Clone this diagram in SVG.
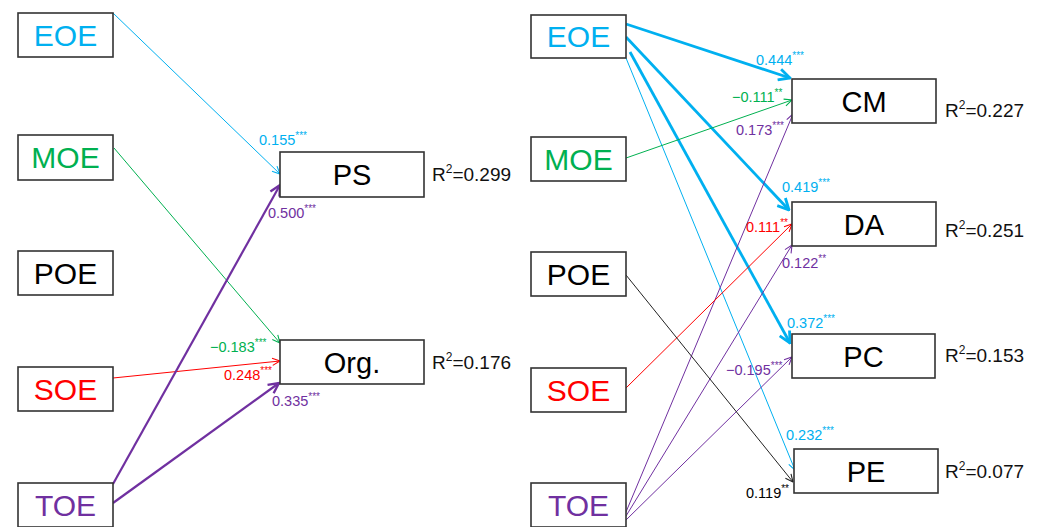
<svg xmlns="http://www.w3.org/2000/svg" width="1040" height="527" viewBox="0 0 1040 527">
<style>
.box{fill:#fff;stroke:#333;stroke-width:1.6}
.src{font-family:"Liberation Sans",Arial,sans-serif;font-size:30px;text-anchor:middle}
.tgt{font-family:"Liberation Sans",Arial,sans-serif;font-size:29px;text-anchor:middle;fill:#000}
.r2{font-family:"Liberation Sans",Arial,sans-serif;font-size:19px;fill:#111}
.lbl{font-family:"Liberation Sans",Arial,sans-serif;font-size:14.5px}
.cy{fill:#00B0F0}.gr{fill:#00B050}.rd{fill:#FF0000}.pu{fill:#7030A0}.bk{fill:#000}
</style>
<defs>
<marker id="a-cy" viewBox="0 0 10 10" refX="9.5" refY="5" markerWidth="9" markerHeight="9" markerUnits="userSpaceOnUse" orient="auto"><path d="M1,1 L9.5,5 L1,9" fill="none" stroke="#00B0F0" stroke-width="1.2"/></marker>
<marker id="a-cyT" viewBox="0 0 10 10" refX="9" refY="5" markerWidth="14" markerHeight="14" markerUnits="userSpaceOnUse" orient="auto"><path d="M1,1 L9,5 L1,9" fill="none" stroke="#00B0F0" stroke-width="2"/></marker>
<marker id="a-gr" viewBox="0 0 10 10" refX="9.5" refY="5" markerWidth="9" markerHeight="9" markerUnits="userSpaceOnUse" orient="auto"><path d="M1,1 L9.5,5 L1,9" fill="none" stroke="#00B050" stroke-width="1.2"/></marker>
<marker id="a-rd" viewBox="0 0 10 10" refX="9.5" refY="5" markerWidth="9" markerHeight="9" markerUnits="userSpaceOnUse" orient="auto"><path d="M1,1 L9.5,5 L1,9" fill="none" stroke="#FF0000" stroke-width="1.2"/></marker>
<marker id="a-pu" viewBox="0 0 10 10" refX="9.5" refY="5" markerWidth="9" markerHeight="9" markerUnits="userSpaceOnUse" orient="auto"><path d="M1,1 L9.5,5 L1,9" fill="none" stroke="#7030A0" stroke-width="1.2"/></marker>
<marker id="a-puT" viewBox="0 0 10 10" refX="9" refY="5" markerWidth="13" markerHeight="13" markerUnits="userSpaceOnUse" orient="auto"><path d="M1,1 L9,5 L1,9" fill="none" stroke="#7030A0" stroke-width="1.8"/></marker>
<marker id="a-bk" viewBox="0 0 10 10" refX="9.5" refY="5" markerWidth="9" markerHeight="9" markerUnits="userSpaceOnUse" orient="auto"><path d="M1,1 L9.5,5 L1,9" fill="none" stroke="#222" stroke-width="1.2"/></marker>
</defs>

<g id="connectors">
  <line x1="113" y1="13" x2="280" y2="174" stroke="#00B0F0" stroke-width="1" marker-end="url(#a-cy)"/>
  <line x1="114" y1="148" x2="280" y2="343" stroke="#00B050" stroke-width="1" marker-end="url(#a-gr)"/>
  <line x1="113" y1="378" x2="280" y2="361" stroke="#FF0000" stroke-width="1" marker-end="url(#a-rd)"/>
  <line x1="113" y1="484" x2="280" y2="185" stroke="#7030A0" stroke-width="2.2" marker-end="url(#a-puT)"/>
  <line x1="113" y1="503" x2="279" y2="383" stroke="#7030A0" stroke-width="2.2" marker-end="url(#a-puT)"/>
  <line x1="626" y1="24" x2="790" y2="78" stroke="#00B0F0" stroke-width="2.8" marker-end="url(#a-cyT)"/>
  <line x1="626" y1="37" x2="789" y2="210" stroke="#00B0F0" stroke-width="2.8" marker-end="url(#a-cyT)"/>
  <line x1="630" y1="52" x2="790" y2="343" stroke="#00B0F0" stroke-width="2.8" marker-end="url(#a-cyT)"/>
  <line x1="626" y1="58" x2="795" y2="470" stroke="#00B0F0" stroke-width="1" marker-end="url(#a-cy)"/>
  <line x1="626" y1="158" x2="792" y2="100" stroke="#00B050" stroke-width="1" marker-end="url(#a-gr)"/>
  <line x1="626" y1="512" x2="793" y2="114" stroke="#7030A0" stroke-width="1" marker-end="url(#a-pu)"/>
  <line x1="626" y1="516" x2="792" y2="245" stroke="#7030A0" stroke-width="1" marker-end="url(#a-pu)"/>
  <line x1="626" y1="520" x2="792" y2="357" stroke="#7030A0" stroke-width="1" marker-end="url(#a-pu)"/>
  <line x1="626" y1="388" x2="792" y2="224" stroke="#FF0000" stroke-width="1" marker-end="url(#a-rd)"/>
  <line x1="626" y1="275" x2="793" y2="482" stroke="#222" stroke-width="1" marker-end="url(#a-bk)"/>
</g>

<g id="edge-labels">
  <text class="lbl cy" x="259" y="145">0.155<tspan dy="-6" font-size="10">***</tspan></text>
  <text class="lbl pu" x="268" y="218">0.500<tspan dy="-6" font-size="10">***</tspan></text>
  <text class="lbl gr" x="210" y="352">−0.183<tspan dy="-6" font-size="10">***</tspan></text>
  <text class="lbl rd" x="224" y="380">0.248<tspan dy="-6" font-size="10">***</tspan></text>
  <text class="lbl pu" x="272" y="406">0.335<tspan dy="-6" font-size="10">***</tspan></text>

  <text class="lbl cy" x="756" y="65">0.444<tspan dy="-6" font-size="10">***</tspan></text>
  <text class="lbl gr" x="732" y="102">−0.111<tspan dy="-6" font-size="10">**</tspan></text>
  <text class="lbl pu" x="736" y="135">0.173<tspan dy="-6" font-size="10">***</tspan></text>
  <text class="lbl cy" x="782" y="192">0.419<tspan dy="-6" font-size="10">***</tspan></text>
  <text class="lbl rd" x="746" y="232">0.111<tspan dy="-6" font-size="10">**</tspan></text>
  <text class="lbl pu" x="782" y="268">0.122<tspan dy="-6" font-size="10">**</tspan></text>
  <text class="lbl cy" x="787" y="328">0.372<tspan dy="-6" font-size="10">***</tspan></text>
  <text class="lbl pu" x="726" y="375">−0.195<tspan dy="-6" font-size="10">***</tspan></text>
  <text class="lbl cy" x="786" y="440">0.232<tspan dy="-6" font-size="10">***</tspan></text>
  <text class="lbl bk" x="746" y="498">0.119<tspan dy="-6" font-size="10">**</tspan></text>
</g>

<g id="L-EOE"><rect class="box" x="18" y="13" width="95" height="44"/><text class="src cy" x="65.5" y="46">EOE</text></g>
<g id="L-MOE"><rect class="box" x="18" y="135" width="95" height="45"/><text class="src gr" x="65.5" y="168">MOE</text></g>
<g id="L-POE"><rect class="box" x="18" y="251" width="95" height="44"/><text class="src bk" x="65.5" y="284">POE</text></g>
<g id="L-SOE"><rect class="box" x="18" y="367" width="95" height="44"/><text class="src rd" x="65.5" y="400">SOE</text></g>
<g id="L-TOE"><rect class="box" x="18" y="483" width="95" height="44"/><text class="src pu" x="65.5" y="516">TOE</text></g>

<g id="L-PS"><rect class="box" x="280" y="152" width="144" height="45"/><text class="tgt" x="352" y="185">PS</text><text class="r2" x="432" y="181">R<tspan dy="-8" font-size="12">2</tspan><tspan dy="8">=0.299</tspan></text></g>
<g id="L-Org"><rect class="box" x="280" y="340" width="144" height="44"/><text class="tgt" x="352" y="373">Org.</text><text class="r2" x="432" y="369">R<tspan dy="-8" font-size="12">2</tspan><tspan dy="8">=0.176</tspan></text></g>

<g id="R-EOE"><rect class="box" x="531" y="15" width="95" height="43"/><text class="src cy" x="578.5" y="47">EOE</text></g>
<g id="R-MOE"><rect class="box" x="531" y="137" width="95" height="44"/><text class="src gr" x="578.5" y="170">MOE</text></g>
<g id="R-POE"><rect class="box" x="531" y="252" width="95" height="44"/><text class="src bk" x="578.5" y="285">POE</text></g>
<g id="R-SOE"><rect class="box" x="531" y="368" width="95" height="44"/><text class="src rd" x="578.5" y="401">SOE</text></g>
<g id="R-TOE"><rect class="box" x="531" y="483" width="95" height="44"/><text class="src pu" x="578.5" y="516">TOE</text></g>

<g id="R-CM"><rect class="box" x="792" y="79" width="144" height="44"/><text class="tgt" x="864" y="112">CM</text><text class="r2" x="945" y="117">R<tspan dy="-8" font-size="12">2</tspan><tspan dy="8">=0.227</tspan></text></g>
<g id="R-DA"><rect class="box" x="792" y="202" width="144" height="44"/><text class="tgt" x="864" y="235">DA</text><text class="r2" x="945" y="237">R<tspan dy="-8" font-size="12">2</tspan><tspan dy="8">=0.251</tspan></text></g>
<g id="R-PC"><rect class="box" x="792" y="334" width="143" height="44"/><text class="tgt" x="863.5" y="367">PC</text><text class="r2" x="945" y="362">R<tspan dy="-8" font-size="12">2</tspan><tspan dy="8">=0.153</tspan></text></g>
<g id="R-PE"><rect class="box" x="794" y="449" width="144" height="44"/><text class="tgt" x="866" y="482">PE</text><text class="r2" x="945" y="478">R<tspan dy="-8" font-size="12">2</tspan><tspan dy="8">=0.077</tspan></text></g>
</svg>
